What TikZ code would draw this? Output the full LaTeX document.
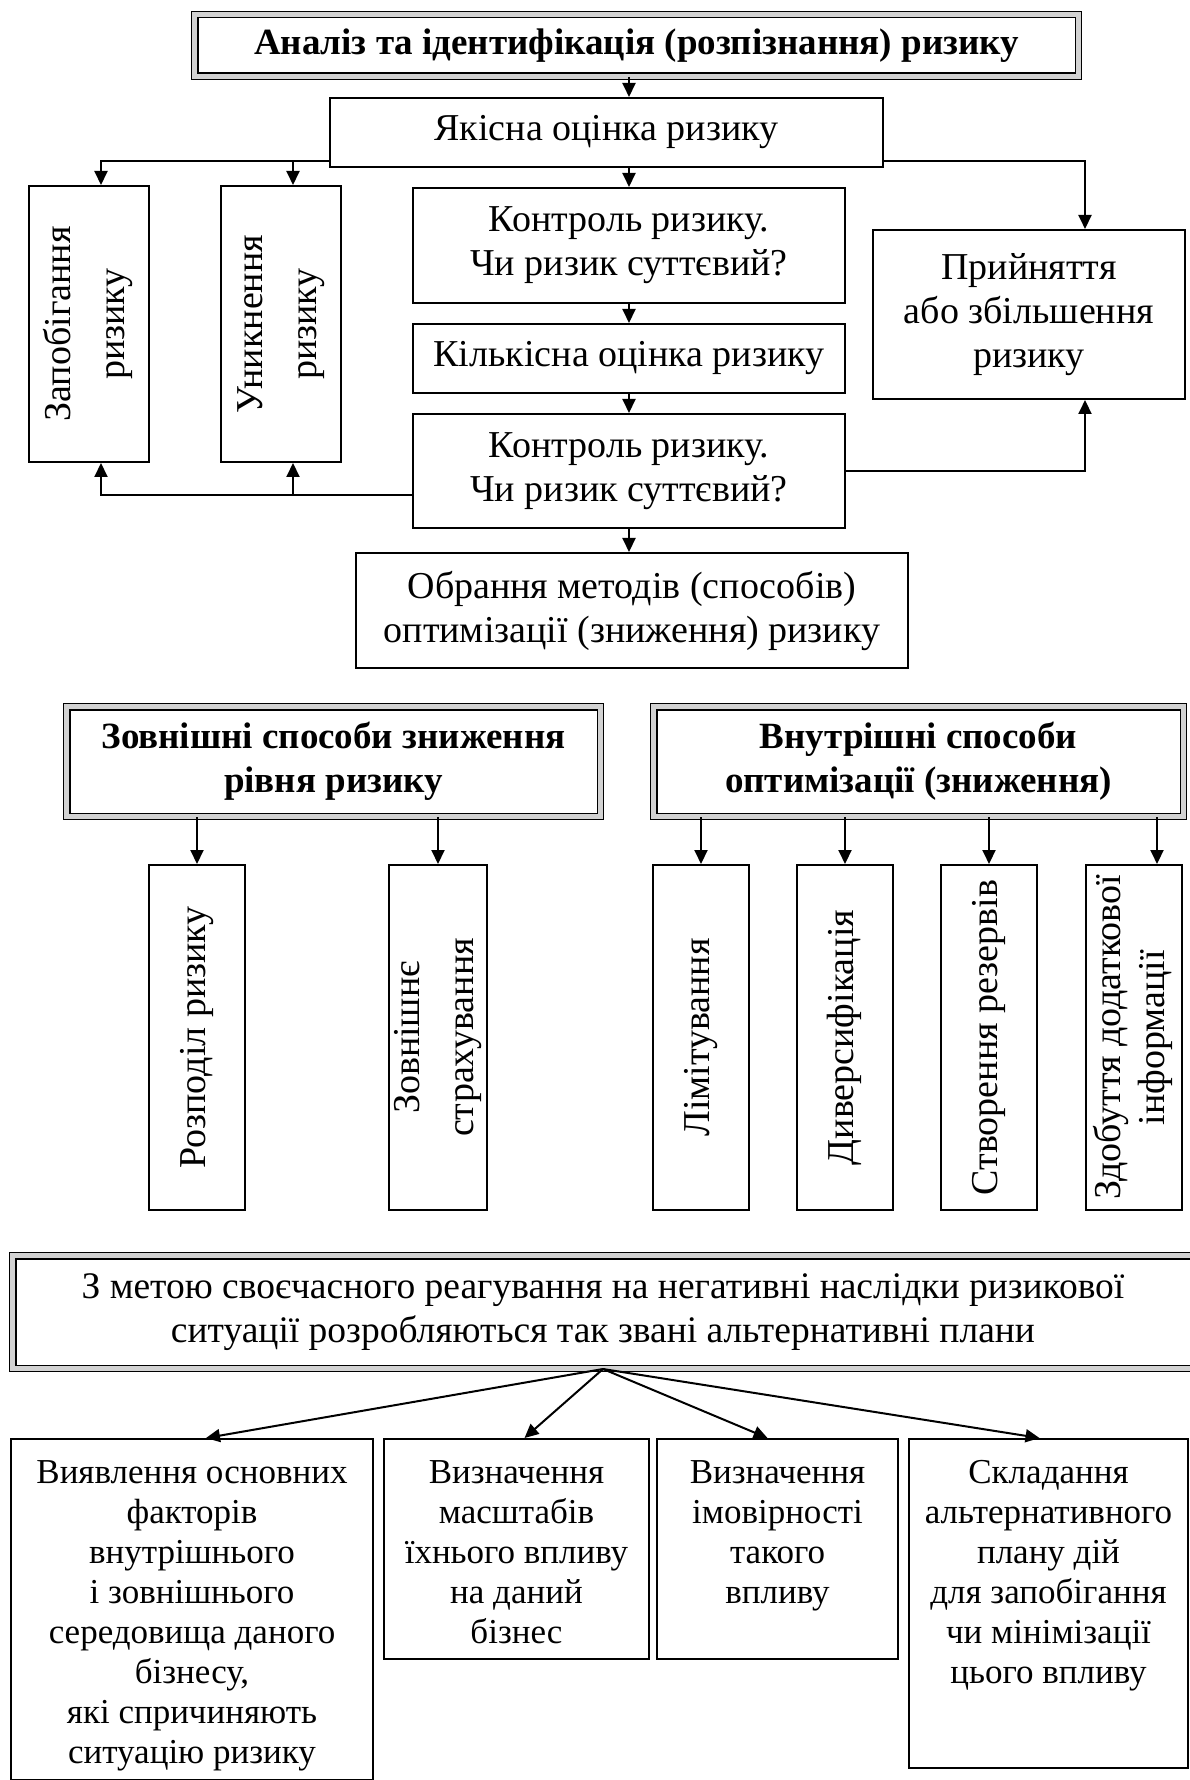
\documentclass[tikz,border=0pt]{standalone}
\usepackage{fontspec}
\setmainfont{Liberation Serif}
\usepackage{graphicx}
\usepackage{tikz}
\usetikzlibrary{arrows.meta,calc,positioning}

\newcommand{\bodyfont}{\fontsize{19}{22}\selectfont}
\newcommand{\headfont}{\fontsize{18.5}{22}\selectfont\bfseries}
\newcommand{\cellfont}{\fontsize{17.5}{20}\selectfont}
\newcommand{\vtext}[1]{\rotatebox{90}{\begin{tabular}{@{}c@{}}#1\end{tabular}}}
\newcommand{\topcell}[3]{\parbox[t][#2][t]{#1}{\centering\rule{0pt}{22pt}#3}}

\begin{document}
\begin{tikzpicture}[
    x=0.5pt, y=-0.5pt,
    font=\bodyfont,
    line width=1pt,
    % plain boxes
    box/.style={draw, inner sep=0pt, align=center},
    % headers with the grey frame
    bevelbox/.style={draw, line width=0.7pt, double=gray!35, double distance=2.4pt,
      inner sep=0pt, align=center},
    arr/.style={-{Triangle[length=7pt,width=6.5pt]}},
  ]
  \useasboundingbox (0,0) rectangle (1189,1780);

  % analysis part
  \node[bevelbox, font=\headfont, minimum width=441.8pt, minimum height=30.8pt]
    (title) at (636.5,45.5) {Аналіз та ідентифікація (розпізнання) ризику};
  \node[box, minimum width=276.5pt, minimum height=34.5pt] (qual) at (606.5,132.5)
    {Якісна оцінка ризику};
  \node[box, minimum width=60pt, minimum height=138pt] (prevent) at (89,324)
    {\vtext{Запобігання\\[5pt]ризику}};
  \node[box, minimum width=60pt, minimum height=138pt] (avoid) at (281,324)
    {\vtext{Уникнення\\[5pt]ризику}};
  \node[box, minimum width=216pt, minimum height=57.5pt] (ctrl1) at (629,245.5)
    {Контроль ризику.\\Чи ризик суттєвий?};
  \node[box, minimum width=216pt, minimum height=34.5pt] (quant) at (629,358.5)
    {Кількісна оцінка ризику};
  \node[box, minimum width=216pt, minimum height=57pt] (ctrl2) at (629,471)
    {Контроль ризику.\\Чи ризик суттєвий?};
  \node[box, minimum width=156pt, minimum height=84.5pt] (acc) at (1029,314.5)
    {Прийняття\\або збільшення\\ризику};
  \node[box, minimum width=276pt, minimum height=57.5pt] (choose) at (632,610.5)
    {Обрання методів (способів)\\оптимізації (зниження) ризику};

  \coordinate (pIn) at ($(prevent.north)+(12,0)$);
  \coordinate (aIn) at ($(avoid.north)+(12,0)$);
  \coordinate (accIn) at ($(acc.north)+(56,0)$);
  \coordinate (qL) at ($(qual.south west)+(0,-7)$);
  \coordinate (qR) at ($(qual.south east)+(0,-7)$);
  \coordinate (c2L) at ($(ctrl2.west)+(0,24)$);

  \draw[arr] (ctrl1.north |- title.south) -- (ctrl1.north |- qual.north);
  \draw[arr] (ctrl1.north |- qual.south) -- (ctrl1.north);
  \draw[arr] (ctrl1.south) -- (quant.north);
  \draw[arr] (quant.south) -- (ctrl2.north);
  \draw[arr] (ctrl2.south) -- (ctrl2.south |- choose.north);
  \draw[arr] (qL) -| (pIn);
  \draw[arr] (aIn |- qL) -- (aIn);
  \draw[arr] (qR) -| (accIn);
  \draw[arr] (c2L) -| (pIn |- prevent.south);
  \draw[arr] (aIn |- c2L) -- (aIn |- avoid.south);
  \draw[arr] (ctrl2.east) -| (accIn |- acc.south);

  % ways of lowering the risk
  \node[bevelbox, font=\headfont, minimum width=266.8pt, minimum height=54.8pt]
    (ext) at (333.5,761.5) {Зовнішні способи зниження\\рівня ризику};
  \node[bevelbox, font=\headfont, minimum width=264.8pt, minimum height=54.8pt]
    (int) at (918.5,761.5) {Внутрішні способи\\оптимізації (зниження)};
  \node[box, minimum width=48pt, minimum height=172.5pt] (r1) at (197,1037.5)
    {\vtext{Розподіл ризику}};
  \node[box, minimum width=48pt, minimum height=172.5pt] (r2) at (438,1037.5)
    {\vtext{Зовнішнє\\[5pt]страхування}};
  \node[box, minimum width=48pt, minimum height=172.5pt] (r3) at (701,1037.5)
    {\vtext{Лімітування}};
  \node[box, minimum width=48pt, minimum height=172.5pt] (r4) at (845,1037.5)
    {\vtext{Диверсифікація}};
  \node[box, minimum width=48pt, minimum height=172.5pt] (r5) at (989,1037.5)
    {\vtext{Створення резервів}};
  \node[box, minimum width=48pt, minimum height=172.5pt] (r6) at (1134,1037.5)
    {\vtext{Здобуття додаткової\\інформації}};

  \coordinate (r6In) at ($(r6.north)+(23,0)$);
  \draw[arr] (r1.north |- ext.south) -- (r1.north);
  \draw[arr] (r2.north |- ext.south) -- (r2.north);
  \draw[arr] (r3.north |- int.south) -- (r3.north);
  \draw[arr] (r4.north |- int.south) -- (r4.north);
  \draw[arr] (r5.north |- int.south) -- (r5.north);
  \draw[arr] (r6In |- int.south) -- (r6In);

  % alternative plans
  \node[bevelbox, font=\fontsize{18.75}{22}\selectfont, minimum width=590.3pt, minimum height=56.3pt]
    (goal) at (603,1312)
    {З метою своєчасного реагування на негативні наслідки ризикової\\
     ситуації розробляються так звані альтернативні плани};
  \node[box, font=\cellfont, anchor=north west] (b1) at (10,1438)
    {\topcell{181pt}{170.5pt}{Виявлення основних\\факторів\\внутрішнього\\і зовнішнього\\
     середовища даного\\бізнесу,\\які спричиняють\\ситуацію ризику}};
  \node[box, font=\cellfont, anchor=north west] (b2) at (383,1438)
    {\topcell{132.5pt}{110pt}{Визначення\\масштабів\\їхнього впливу\\на даний\\бізнес}};
  \node[box, font=\cellfont, anchor=north west] (b3) at (656,1438)
    {\topcell{120.5pt}{110pt}{Визначення\\імовірності\\такого\\впливу}};
  \node[box, font=\cellfont, anchor=north west] (b4) at (908,1438)
    {\topcell{139.5pt}{164.5pt}{Складання\\альтернативного\\плану дій\\для запобігання\\
     чи мінімізації\\цього впливу}};

  \draw[arr] (goal.south) -- ($(b1.north)+(14,0)$);
  \draw[arr] (goal.south) -- ($(b2.north)+(8,0)$);
  \draw[arr] (goal.south) -- ($(b3.north)+(-10,0)$);
  \draw[arr] (goal.south) -- ($(b4.north)+(-9,0)$);
\end{tikzpicture}
\end{document}
